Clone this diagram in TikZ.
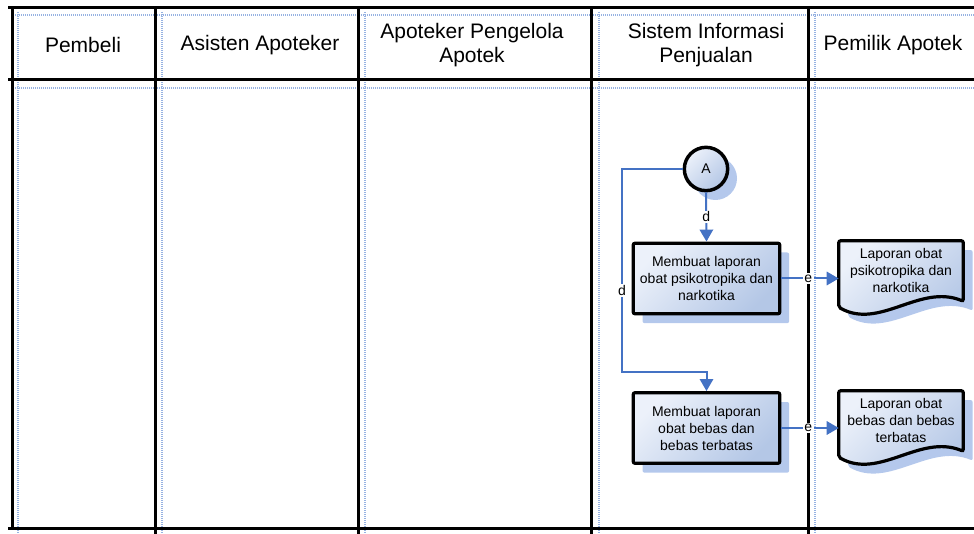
\documentclass[tikz,border=0pt]{standalone}
\usepackage{fontspec}
\setmainfont{Liberation Sans}
\usetikzlibrary{arrows.meta,shadows,calc,backgrounds}
\definecolor{lanedot}{RGB}{150,178,226}
\definecolor{connblue}{RGB}{68,114,196}
\definecolor{fillA}{RGB}{236,241,250}
\definecolor{fillB}{RGB}{180,199,230}
\definecolor{shadowblue}{RGB}{180,200,236}
\begin{document}
\begin{tikzpicture}[x=0.75pt,y=-0.75pt,
  frame/.style={line width=2.25pt, black},
  lanedots/.style={line width=1.6pt, lanedot, dash pattern=on 0.75pt off 0.75pt},
  hdr/.style={font=\fontsize{15.75}{18}\selectfont, align=center, inner sep=0pt},
  myshadow/.style={drop shadow={shadow xshift=7pt, shadow yshift=-7pt, fill=shadowblue, opacity=1}},
  procbox/.style={draw, line width=2.4pt, rounded corners=1.5pt, minimum width=110pt, minimum height=53pt,
    align=center, inner sep=1pt, font=\fontsize{10.5}{12.75}\selectfont,
    top color=fillA, bottom color=fillB, shading angle=45, myshadow},
  connector/.style={circle, draw, line width=2.6pt, minimum size=32.5pt, inner sep=0pt,
    font=\fontsize{10.5}{12}\selectfont, top color=fillA, bottom color=fillB, shading angle=45, myshadow},
  doctext/.style={rectangle, minimum width=93pt, minimum height=43.5pt, inner sep=0pt,
    align=center, font=\fontsize{10.5}{12.75}\selectfont},
  docshape/.style={draw, line width=2.4pt, rounded corners=1.5pt, top color=fillA, bottom color=fillB, shading angle=45, myshadow},
  flow/.style={draw=connblue, line width=1.5pt},
  tip/.style={-{Triangle[length=9pt,width=10pt]}},
  lbl/.style={fill=white, inner sep=1pt, font=\fontsize{10.5}{12}\selectfont, text=black}
]
\useasboundingbox (0,0) rectangle (974,534);

% lanes (background layer)
\begin{scope}[on background layer]
  \foreach \yy in {15,88} \draw[lanedots] (15,\yy) -- (974,\yy);
  \foreach \xx in {18,162,365,599,815} \draw[lanedots] (\xx,12) -- (\xx,534);
  \draw[frame] (8,8) -- (974,8);
  \draw[frame] (8,80) -- (974,80);
  \draw[frame] (8,528) -- (974,528);
  \draw[frame] (12,8) -- (12,528);
  \foreach \xx in {155,358,591,808} \draw[frame] (\xx,8) -- (\xx,534);
\end{scope}

% headers
\node[hdr] (h1) at (83,45) {Pembeli};
\node[hdr] (h2) at (260,45) {Asisten Apoteker};
\node[hdr] (h3) at (472,45) {Apoteker Pengelola\\Apotek};
\node[hdr] (h4) at (706,45) {Sistem Informasi\\Penjualan};
\node[hdr] (h5) at (893,45) {Pemilik Apotek};

% shapes
\node[connector] (A) at (706,169) {A};
\node[procbox] (b1) at (706.5,278.5) {Membuat laporan\\obat psikotropika dan\\narkotika};
\node[procbox] (b2) at (706.5,428) {Membuat laporan\\obat bebas dan\\bebas terbatas};
\node[doctext] (d1) at (901,270) {Laporan obat\\psikotropika dan\\narkotika};
\node[doctext] (d2) at (901,420) {Laporan obat\\bebas dan bebas\\terbatas};

\begin{scope}[on background layer]
  \foreach \d in {d1,d2} {
    \path[docshape] (\d.north west) -- (\d.north east) -- ($(\d.south east)+(0,2)$)
      .. controls ($(\d.south west)+(81,-16)$) and ($(\d.south west)+(41,31)$) .. ($(\d.south west)+(0,8)$) -- cycle;
  }
\end{scope}

% connectors
\coordinate (k1) at (622,169);
\coordinate (k2) at (622,372);
\draw[flow,tip] (A.south) -- node[lbl]{d} (b1.north);
\draw[flow,tip] (A.west) -- (k1) -- node[lbl,pos=0.6]{d} (k2) -- (k2 -| b2.north) -- (b2.north);
\draw[flow,tip] (b1.east) -- node[lbl,pos=0.47]{e} (b1.east -| d1.west);
\draw[flow,tip] (b2.east) -- node[lbl,pos=0.47]{e} (b2.east -| d2.west);
\end{tikzpicture}
\end{document}
